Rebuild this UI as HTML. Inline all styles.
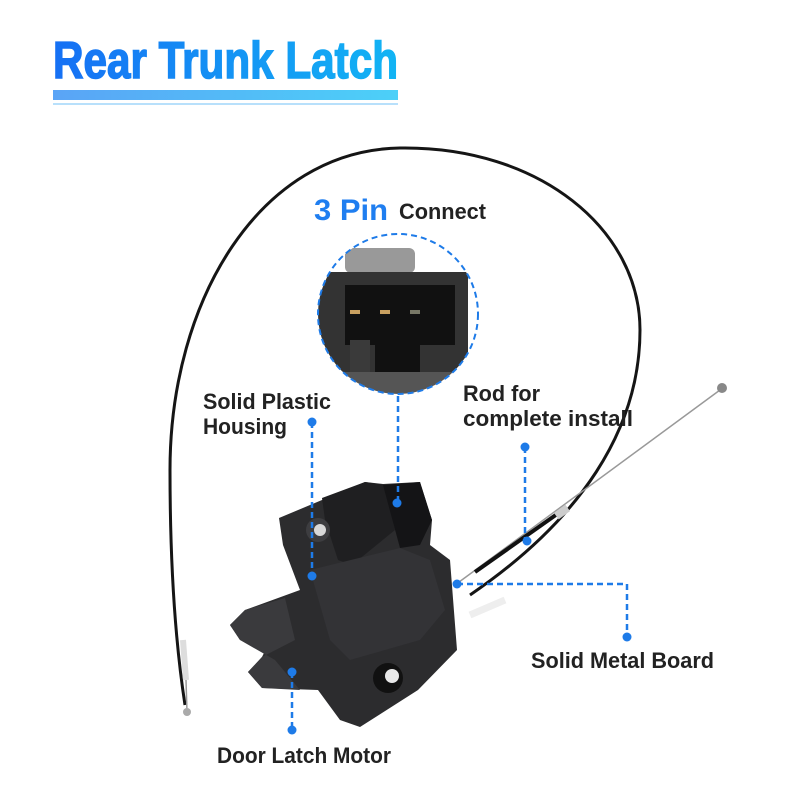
<!DOCTYPE html>
<html><head><style>
html,body{margin:0;padding:0;background:#fff;}
svg{display:block;}
text{font-family:"Liberation Sans Narrow","Liberation Sans",sans-serif;font-weight:bold;}
</style></head><body>
<svg width="800" height="800" viewBox="0 0 800 800" xmlns="http://www.w3.org/2000/svg">
<defs>
<linearGradient id="tg" x1="0" x2="1"><stop offset="0" stop-color="#1670f4"/><stop offset="1" stop-color="#12b4f4"/></linearGradient>
<linearGradient id="bg" x1="0" x2="1"><stop offset="0" stop-color="#5aa4f6"/><stop offset="1" stop-color="#4cd0f8"/></linearGradient>
<clipPath id="cc"><circle cx="398" cy="314" r="80"/></clipPath>
</defs>
<text x="53" y="78" font-size="52" fill="url(#tg)" stroke="url(#tg)" stroke-width="1.5" textLength="345" lengthAdjust="spacingAndGlyphs">Rear Trunk Latch</text>
<rect x="53" y="90" width="345" height="10" fill="url(#bg)"/>
<rect x="53" y="103" width="345" height="2" fill="#b8e0fb"/>

<path d="M185,705 C175,640 170,560 170,470 C170,300 260,150 400,148 C540,146 640,230 640,330 C640,430 580,520 470,595" fill="none" stroke="#151515" stroke-width="3"/>
<path d="M183,640 L186,680" stroke="#ddd" stroke-width="6"/>
<path d="M186,680 L187,712" stroke="#999" stroke-width="1.5"/>
<circle cx="187" cy="712" r="4" fill="#aaa"/>
<path d="M455,585 L720,390" stroke="#999" stroke-width="1.5"/>
<path d="M475,572 L560,512" stroke="#111" stroke-width="4"/>
<rect x="555" y="508" width="14" height="8" fill="#ccc" transform="rotate(-36 562 512)"/>
<circle cx="722" cy="388" r="5" fill="#888"/>
<path d="M470,615 L505,600" stroke="#eee" stroke-width="7"/>

<polygon points="279,518 365,482 383,484 420,482 432,520 430,545 450,560 457,650 418,690 360,727 340,720 318,690 262,688 248,672 262,657 268,645 240,640 230,625 245,610 300,590 283,545" fill="#2c2c2e"/>
<polygon points="322,498 365,482 385,485 395,530 352,565 338,560 325,520" fill="#1f1f21"/>
<polygon points="383,485 420,482 432,520 420,545 400,548" fill="#141416"/>
<polygon points="310,570 400,548 430,560 445,610 420,640 350,660 330,640" fill="#333336"/>
<polygon points="240,640 230,625 245,610 285,598 295,640 262,657 248,672 262,688 300,690 275,660" fill="#3a3a3d"/>
<circle cx="318" cy="530" r="12" fill="#3d3d40"/><circle cx="320" cy="530" r="6" fill="#d8d8d8"/>
<circle cx="388" cy="678" r="15" fill="#111"/><circle cx="392" cy="676" r="7" fill="#e8e8e8"/>

<g clip-path="url(#cc)">
<rect x="300" y="230" width="200" height="180" fill="#fff"/>
<rect x="345" y="248" width="70" height="25" fill="#999" rx="6"/>
<rect x="318" y="272" width="150" height="100" fill="#333"/>
<path d="M345,285 H455 V345 H420 V372 H375 V345 H345 Z" fill="#111"/>
<rect x="350" y="340" width="20" height="32" fill="#3a3a3a"/>
<rect x="350" y="310" width="10" height="4" fill="#c9a060"/><rect x="380" y="310" width="10" height="4" fill="#c9a060"/><rect x="410" y="310" width="10" height="4" fill="#776"/>
<rect x="318" y="372" width="150" height="40" fill="#555"/>
</g>
<circle cx="398" cy="314" r="80" fill="none" stroke="#1e7be8" stroke-width="2" stroke-dasharray="6,4"/>

<text x="314" y="220" font-size="30" fill="#1f7ef0" textLength="74" lengthAdjust="spacingAndGlyphs">3 Pin</text>
<text x="399" y="219" font-size="22" fill="#222" textLength="87" lengthAdjust="spacingAndGlyphs">Connect</text>
<text x="203" y="409" font-size="22" fill="#222" textLength="128" lengthAdjust="spacingAndGlyphs">Solid Plastic</text>
<text x="203" y="434" font-size="22" fill="#222" textLength="84" lengthAdjust="spacingAndGlyphs">Housing</text>
<text x="463" y="401" font-size="22" fill="#222" textLength="77" lengthAdjust="spacingAndGlyphs">Rod for</text>
<text x="463" y="426" font-size="22" fill="#222" textLength="170" lengthAdjust="spacingAndGlyphs">complete install</text>
<text x="531" y="668" font-size="22" fill="#222" textLength="183" lengthAdjust="spacingAndGlyphs">Solid Metal Board</text>
<text x="217" y="763" font-size="22" fill="#222" textLength="174" lengthAdjust="spacingAndGlyphs">Door Latch Motor</text>

<g stroke="#1e7be8" stroke-width="2.5" stroke-dasharray="6,4" fill="none">
<path d="M398,396 V503"/>
<path d="M312,422 V576"/>
<path d="M525,447 V540"/>
<path d="M457,584 H627 V637"/>
<path d="M292,672 V730"/>
</g>
<g fill="#1e7be8">
<circle cx="397" cy="503" r="4.5"/>
<circle cx="312" cy="422" r="4.5"/><circle cx="312" cy="576" r="4.5"/>
<circle cx="525" cy="447" r="4.5"/><circle cx="527" cy="541" r="4.5"/>
<circle cx="457" cy="584" r="4.5"/><circle cx="627" cy="637" r="4.5"/>
<circle cx="292" cy="672" r="4.5"/><circle cx="292" cy="730" r="4.5"/>
</g>
</svg>
</body></html>
